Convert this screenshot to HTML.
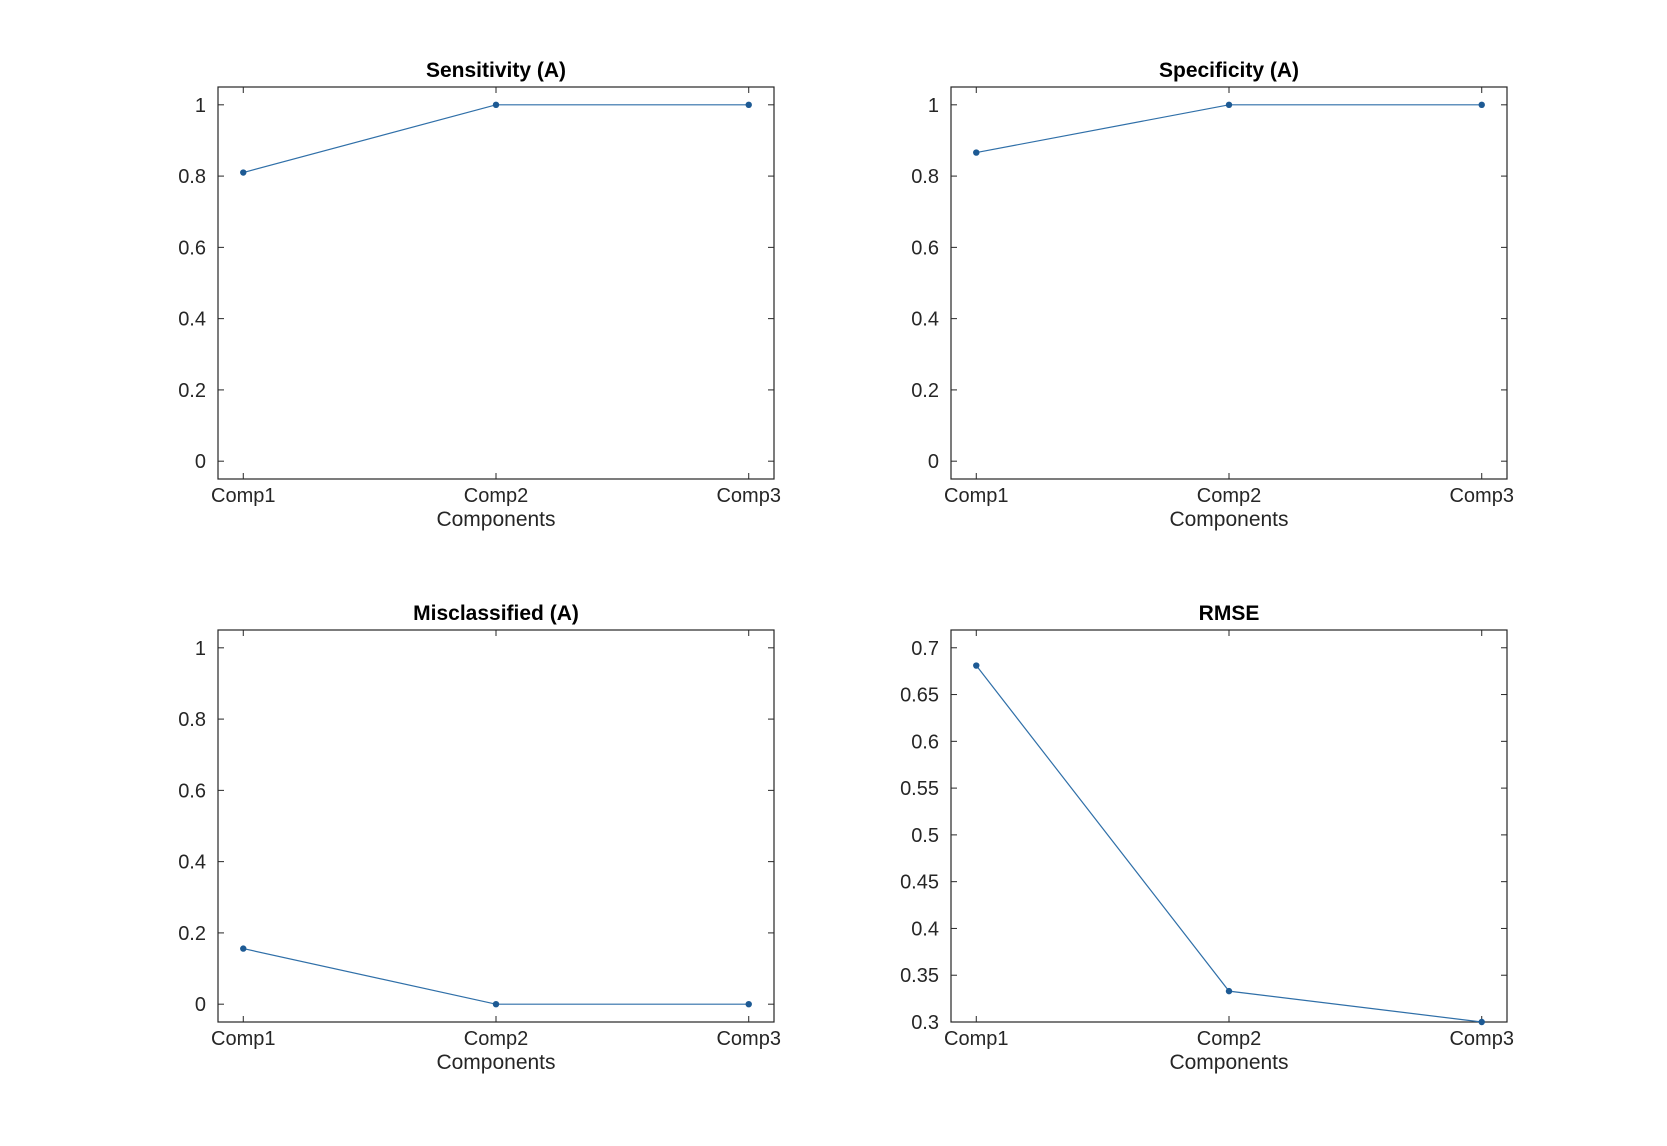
<!DOCTYPE html>
<html><head><meta charset="utf-8"><style>
html,body{margin:0;padding:0;background:#fff;}
svg{display:block;font-family:"Liberation Sans",Arial,sans-serif;}
</style></head><body>
<svg id="s" width="1667" height="1146" viewBox="0 0 1667 1146" xmlns="http://www.w3.org/2000/svg"></svg>
<script>
const s=document.getElementById('s');
let h='';
function plot(x0,y0,title,ymin,ymax,ticks,labels,vals){
  const w=556,ht=392,x1=x0+w,y1=y0+ht;
  const X=i=>x0+(i+0.1)*w/2.2;
  const Y=v=>y1-(v-ymin)/(ymax-ymin)*ht;
  h+=`<rect x="${x0}" y="${y0}" width="${w}" height="${ht}" fill="#fff" stroke="#262626" stroke-width="1.2"/>`;
  ticks.forEach((t,k)=>{const y=Y(t);
    h+=`<line x1="${x0}" y1="${y}" x2="${x0+6}" y2="${y}" stroke="#262626"/><line x1="${x1}" y1="${y}" x2="${x1-6}" y2="${y}" stroke="#262626"/>`;
    h+=`<text x="${x0-12}" y="${y+7}" font-size="20" fill="#262626" text-anchor="end">${labels[k]}</text>`;});
  for(let i=0;i<3;i++){const x=X(i);
    h+=`<line x1="${x}" y1="${y1}" x2="${x}" y2="${y1-6}" stroke="#262626"/><line x1="${x}" y1="${y0}" x2="${x}" y2="${y0+6}" stroke="#262626"/>`;
    h+=`<text x="${x}" y="${y1+23}" font-size="20" fill="#262626" text-anchor="middle">Comp${i+1}</text>`;}
  h+=`<text x="${x0+w/2}" y="${y1+47}" font-size="21" fill="#262626" text-anchor="middle">Components</text>`;
  h+=`<text x="${x0+w/2}" y="${y0-10}" font-size="21" font-weight="bold" fill="#000" text-anchor="middle">${title}</text>`;
  h+=`<polyline fill="none" stroke="#2f6fa8" stroke-width="1.2" points="${vals.map((v,i)=>X(i)+','+Y(v)).join(' ')}"/>`;
  vals.forEach((v,i)=>{h+=`<circle cx="${X(i)}" cy="${Y(v)}" r="3.2" fill="#1d5a94"/>`;});
}
const t01=[0,0.2,0.4,0.6,0.8,1],l01=['0','0.2','0.4','0.6','0.8','1'];
plot(218,87,'Sensitivity (A)',-0.05,1.05,t01,l01,[0.81,1,1]);
plot(951,87,'Specificity (A)',-0.05,1.05,t01,l01,[0.866,1,1]);
plot(218,630,'Misclassified (A)',-0.05,1.05,t01,l01,[0.156,0,0]);
plot(951,630,'RMSE',0.3,0.719,[0.3,0.35,0.4,0.45,0.5,0.55,0.6,0.65,0.7],['0.3','0.35','0.4','0.45','0.5','0.55','0.6','0.65','0.7'],[0.681,0.333,0.3]);
s.innerHTML=h;
</script>
</body></html>
